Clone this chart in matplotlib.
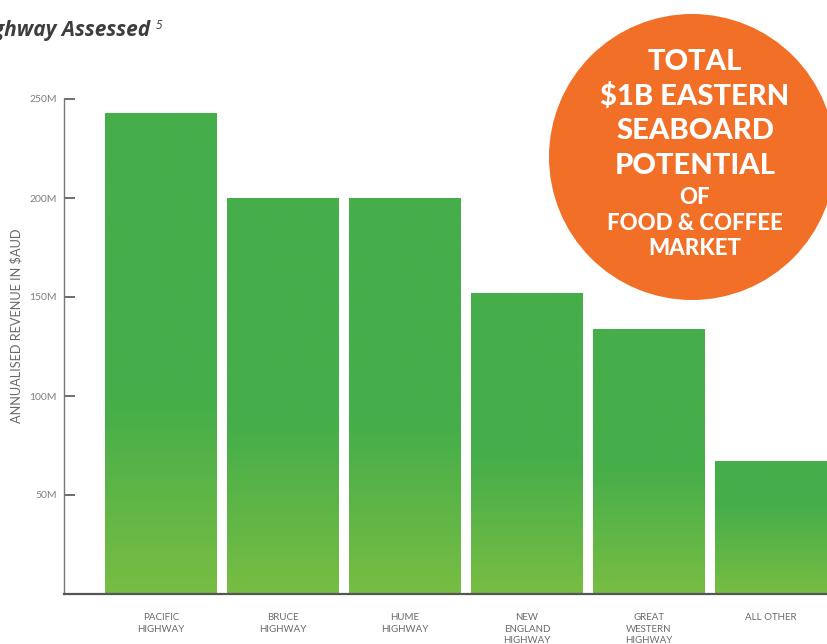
import numpy as np
import matplotlib
matplotlib.use("Agg")
import matplotlib.pyplot as plt
from matplotlib.patches import Circle, Rectangle
from matplotlib.colors import LinearSegmentedColormap

categories = ["PACIFIC\nHIGHWAY", "BRUCE\nHIGHWAY", "HUME\nHIGHWAY",
              "NEW\nENGLAND\nHIGHWAY", "GREAT\nWESTERN\nHIGHWAY", "ALL OTHER"]
values = [243, 200, 200, 152, 134, 67]  # millions AUD
yticks = [50, 100, 150, 200, 250]
ytick_labels = ["50M", "100M", "150M", "200M", "250M"]
circle_lines = ["TOTAL", "$1B EASTERN", "SEABOARD", "POTENTIAL", "OF",
                "FOOD & COFFEE", "MARKET"]

W, H = 827, 644
fig = plt.figure(figsize=(W / 100, H / 100), dpi=100)
ax = fig.add_axes([64 / W, (H - 594) / H, 1 - 64 / W, 495 / H])

top_c = "#45AE4A"
bot_c = "#78BD43"
cmap = LinearSegmentedColormap.from_list("g", [bot_c, top_c])
bw = 0.915
x = np.arange(len(values))
for xi, v in zip(x, values):
    glen = 0.3 * v + 25
    grad = np.clip(np.linspace(0, v, 256) / glen, 0, 1).reshape(-1, 1)
    im = ax.imshow(grad, cmap=cmap, vmin=0, vmax=1, origin="lower",
                   extent=[xi - bw / 2, xi + bw / 2, 0, v], aspect="auto",
                   zorder=2, interpolation="bilinear")
    rect = Rectangle((xi - bw / 2, 0), bw, v, transform=ax.transData,
                     facecolor="none", edgecolor="none")
    ax.add_patch(rect)
    im.set_clip_path(rect)

fam = ["Lato", "DejaVu Sans"]
ax.set_xlim(-0.795, 5.46)
ax.set_ylim(0, 250)
ax.set_xticks(x)
ax.set_xticklabels(categories, fontsize=7, color="#6a6a6a", linespacing=1.35,
                   family=fam, va="top")
ax.set_yticks(yticks)
ax.set_yticklabels(ytick_labels, fontsize=7.5, color="#808080", family=fam)
ax.tick_params(axis="x", length=0, pad=14)
ax.tick_params(axis="y", direction="in", length=8, width=1.2, color="#555555", pad=5)
for s in ["top", "right"]:
    ax.spines[s].set_visible(False)
ax.spines["left"].set_color("#777777")
ax.spines["left"].set_linewidth(1.0)
ax.spines["bottom"].set_color("#555555")
ax.spines["bottom"].set_linewidth(1.6)
ax.set_ylabel("ANNUALISED REVENUE IN $AUD", fontsize=9.2, color="#6a6a6a",
              family=fam)
ax.yaxis.label.set_va("center")
ax.yaxis.label.set_ha("center")
ax.yaxis.set_label_coords(-(64 - 16) / (W - 64), (594 - 326) / 495)

# title (cut off at the left edge)
fig.text(150 / W, 1 - 36 / H, "Annualised Revenue by Highway Assessed",
         ha="right", va="baseline", fontsize=15, fontstyle="italic",
         fontweight="bold", color="#3d3d3d", family=["Open Sans", "DejaVu Sans"])
fig.text(156 / W, 1 - 29 / H, "5", ha="left", va="baseline", fontsize=8.5,
         fontstyle="italic", color="#3d3d3d", family=["Open Sans", "DejaVu Sans"])

# orange circle
circ = Circle((692 / 100, (H - 157) / 100), 1.43, transform=fig.dpi_scale_trans,
              facecolor="#F26F28", edgecolor="none", zorder=5)
fig.add_artist(circ)
ys = [62, 97, 131, 166, 197, 223, 248]
sizes = [21, 21, 21, 21, 16, 16, 16]
for t, yy, fs in zip(circle_lines, ys, sizes):
    fig.text(695 / W, 1 - yy / H, t, ha="center", va="center", fontsize=fs,
             fontweight="black", color="white", family=fam, zorder=6)

fig.savefig("out.png", dpi=100)
